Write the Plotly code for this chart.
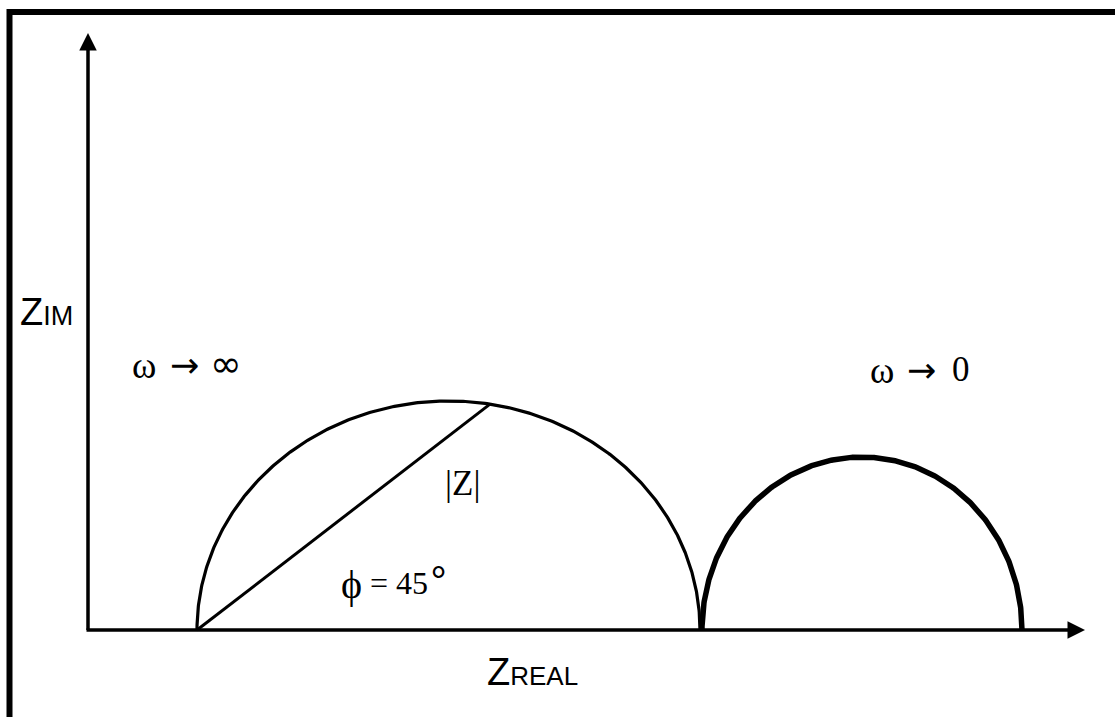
import numpy as np
import plotly.graph_objects as go

# Nyquist sketch: two semicircular impedance arcs on Z_REAL / Z_IM axes
arc_names = ["high-frequency arc", "low-frequency arc"]
arc_center = [360.5, 774.0]      # Z_REAL at arc centre
arc_half_width = [251.5, 160.0]  # half of the real-axis span
arc_height = [229.0, 173.0]      # peak Z_IM
arc_line_width = [3.2, 5.5]

phasor_arc = 0                   # |Z| drawn on the first arc
phasor_param_deg = 80.5          # parametric angle of the |Z| end point

x_axis_end = 997.0
y_axis_end = 597.0

fig = go.Figure()

t = np.linspace(0, np.pi, 400)
for name, c, a, h, w in zip(arc_names, arc_center, arc_half_width, arc_height, arc_line_width):
    fig.add_trace(go.Scatter(
        x=c + a * np.cos(t), y=h * np.sin(t), mode="lines", name=name,
        line=dict(color="black", width=w), hoverinfo="skip", showlegend=False))

# |Z| vector from the arc's left foot to a point on the arc
c0, a0, h0 = arc_center[phasor_arc], arc_half_width[phasor_arc], arc_height[phasor_arc]
p = np.radians(phasor_param_deg)
fig.add_trace(go.Scatter(
    x=[c0 - a0, c0 + a0 * np.cos(p)], y=[0, h0 * np.sin(p)], mode="lines",
    line=dict(color="black", width=3), hoverinfo="skip", showlegend=False))

# axes with arrow heads
axis_arrows = [
    dict(x=x_axis_end, y=0, ax=-3, ay=0),
    dict(x=0, y=y_axis_end, ax=0, ay=-1.5),
]
for ar in axis_arrows:
    fig.add_annotation(x=ar["x"], y=ar["y"], ax=ar["ax"], ay=ar["ay"],
                       xref="x", yref="y", axref="x", ayref="y", text="",
                       showarrow=True, arrowhead=2, arrowsize=1.0,
                       arrowwidth=3.5, arrowcolor="black", standoff=0)

serif = "Liberation Serif"
dsans = "DejaVu Sans"
sans = "Liberation Sans"

# text pieces: (x, y, text, size, family)
labels = [
    (55.5, 264.5, "\u03c9", 37, serif),
    (96, 265, "\u2192", 35, dsans),
    (138, 266, "\u221e", 38, dsans),
    (793.5, 259.5, "\u03c9", 37, serif),
    (833, 260, "\u2192", 35, dsans),
    (872.5, 261, "0", 35, serif),
    (374.5, 147, "|Z|", 35, serif),
    (263, 46, "\u03d5", 40, serif),
    (311, 47, "= 45", 32, serif),
    (350, 51, "<b>\u00b0</b>", 38, serif),
]
for x, y, txt, size, fam in labels:
    fig.add_annotation(x=x, y=y, xref="x", yref="y", text=txt, showarrow=False,
                       font=dict(size=size, family=fam, color="black"))

fig.add_annotation(x=-42, y=318, xref="x", yref="y", showarrow=False,
                   text="Z<span style='font-size:27px'>IM</span>",
                   font=dict(size=38, family=sans, color="black"))
fig.add_annotation(x=444, y=-42, xref="x", yref="y", showarrow=False,
                   text="Z<span style='font-size:26px'>REAL</span>",
                   font=dict(size=38, family=sans, color="black"))

# frame lines along the top and left edges
fig.add_shape(type="line", xref="paper", yref="paper", x0=7 / 1115, x1=1, y0=1 - 12 / 717, y1=1 - 12 / 717,
              line=dict(color="black", width=6))
fig.add_shape(type="line", xref="paper", yref="paper", x0=9.5 / 1115, x1=9.5 / 1115, y0=0, y1=1 - 9 / 717,
              line=dict(color="black", width=6))

fig.update_layout(
    width=1115, height=717, autosize=False,
    margin=dict(l=0, r=0, t=0, b=0),
    paper_bgcolor="white", plot_bgcolor="white",
    xaxis=dict(range=[-88, 1027], visible=False, fixedrange=True),
    yaxis=dict(range=[-87, 630], visible=False, fixedrange=True),
    showlegend=False,
)

fig.write_html("out.html")
